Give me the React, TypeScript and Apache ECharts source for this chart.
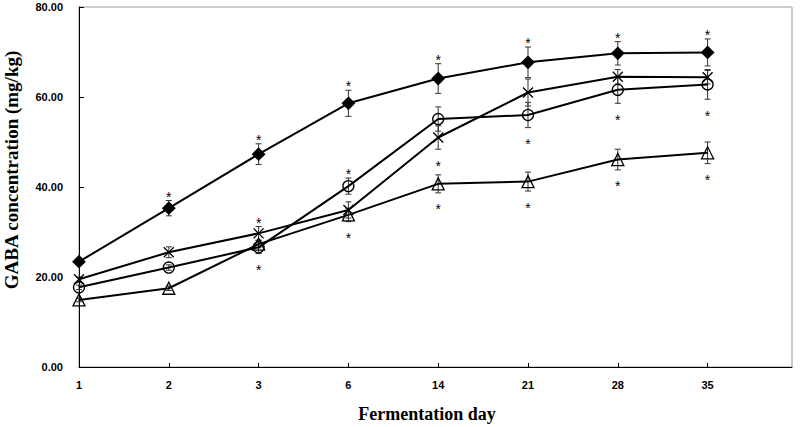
import React, { useEffect, useRef } from 'react';
import * as echarts from 'echarts';

// Fermentation days (x categories)
const DAYS = ['1', '2', '3', '6', '14', '21', '28', '35'];
const Y_TICKS = [0, 20, 40, 60, 80];

// Series values (mg/kg)
const DIAMOND = [23.4, 35.3, 47.3, 58.6, 64.1, 67.7, 69.7, 69.9];
const DIAMOND_ERR = [0.6, 1.7, 2.3, 2.9, 3.3, 3.4, 2.6, 3.0];
const DIAMOND_SIG = [0, 1, 1, 1, 1, 1, 1, 1];

const CROSS = [19.5, 25.5, 29.7, 34.9, 51.0, 61.0, 64.5, 64.4];
const CROSS_ERR = [0.5, 1.2, 1.5, 1.8, 2.6, 3.0, 1.6, 1.5];
const CROSS_SIG = [0, 0, 1, 0, -1, 0, 0, 0];

const CIRCLE = [17.7, 22.1, 26.6, 40.2, 55.1, 56.0, 61.6, 62.8];
const CIRCLE_ERR = [0.5, 0.6, 1.4, 1.8, 2.7, 2.8, 3.0, 3.3];
const CIRCLE_SIG = [0, 0, -1, 1, 0, -1, -1, -1];

const TRIANGLE = [14.9, 17.5, 27.3, 33.8, 40.7, 41.2, 46.1, 47.6];
const TRIANGLE_ERR = [0.4, 0.5, 0.8, 1.5, 2.0, 2.1, 2.3, 2.4];
const TRIANGLE_SIG = [0, 0, 0, -1, -1, -1, -1, -1];

const SERIES = [
  { name: 'A', values: DIAMOND, err: DIAMOND_ERR, sig: DIAMOND_SIG, symbol: 'diamond', size: 12, fill: '#000' },
  { name: 'B', values: CROSS, err: CROSS_ERR, sig: CROSS_SIG, symbol: 'path://M0,0L10,10M10,0L0,10', size: 10, fill: 'transparent' },
  { name: 'C', values: CIRCLE, err: CIRCLE_ERR, sig: CIRCLE_SIG, symbol: 'circle', size: 11, fill: 'transparent' },
  { name: 'D', values: TRIANGLE, err: TRIANGLE_ERR, sig: TRIANGLE_SIG, symbol: 'triangle', size: 12, fill: 'transparent' },
];

export default function App() {
  const ref = useRef<HTMLDivElement>(null);
  useEffect(() => {
    const chart = echarts.init(ref.current!, null, { renderer: 'svg' });

    const errData: number[][] = [];
    const sigData: number[][] = [];
    SERIES.forEach((s) => {
      s.values.forEach((v, i) => {
        errData.push([i, v - s.err[i], v + s.err[i]]);
        if (s.sig[i] !== 0) {
          sigData.push([i, s.sig[i] > 0 ? v + s.err[i] : v - s.err[i], s.sig[i]]);
        }
      });
    });

    const lineSeries = SERIES.map((s) => ({
      name: s.name,
      type: 'line',
      data: s.values.map((v, i) => [i, v]),
      symbol: s.symbol,
      symbolSize: s.size,
      showSymbol: true,
      itemStyle: { color: s.fill, borderColor: '#000', borderWidth: 1.3 },
      lineStyle: { color: '#000', width: 2 },
      z: 3,
      silent: true,
    }));

    const option: any = {
      animation: false,
      grid: {
        left: 79,
        right: 8,
        top: 7,
        bottom: 60,
        show: true,
        borderColor: '#999',
        borderWidth: 1,
        backgroundColor: 'transparent',
      },
      xAxis: {
        type: 'value',
        min: 0,
        max: 7.94,
        interval: 1,
        axisLine: { show: true, lineStyle: { color: '#000', width: 1 } },
        axisTick: { show: true, inside: true, length: 4, lineStyle: { color: '#000' } },
        splitLine: { show: false },
        axisLabel: {
          formatter: (v: number) => (Number.isInteger(v) && DAYS[v] !== undefined ? DAYS[v] : ''),
          fontWeight: 'bold',
          fontSize: 11,
          color: '#000',
          margin: 12,
          fontFamily: '"Liberation Sans", Arial, sans-serif',
          showMaxLabel: false,
        },
      },
      yAxis: {
        type: 'value',
        min: Y_TICKS[0],
        max: Y_TICKS[Y_TICKS.length - 1],
        interval: 20,
        axisLine: { show: true, lineStyle: { color: '#000', width: 1 } },
        axisTick: { show: true, inside: true, length: 5, lineStyle: { color: '#000' } },
        splitLine: { show: false },
        axisLabel: {
          formatter: (v: number) => v.toFixed(2),
          fontWeight: 'bold',
          fontSize: 11,
          color: '#000',
          margin: 16,
          fontFamily: '"Liberation Sans", Arial, sans-serif',
        },
      },
      graphic: [
        {
          type: 'text',
          x: 11,
          y: 170,
          rotation: Math.PI / 2,
          style: {
            text: 'GABA concentration (mg/kg)',
            font: 'bold 19px "Liberation Serif", "Times New Roman", serif',
            fill: '#000',
            align: 'center',
            verticalAlign: 'middle',
          },
        },
        {
          type: 'text',
          x: 427,
          y: 414,
          style: {
            text: 'Fermentation day',
            font: 'bold 18px "Liberation Serif", "Times New Roman", serif',
            fill: '#000',
            align: 'center',
            verticalAlign: 'middle',
          },
        },
      ],
      series: [
        {
          type: 'custom',
          name: 'err',
          data: errData,
          encode: { x: 0, y: [1, 2] },
          z: 1,
          silent: true,
          renderItem: (params: any, api: any) => {
            const x = api.value(0);
            const lo = api.coord([x, api.value(1)]);
            const hi = api.coord([x, api.value(2)]);
            const w = 3;
            const st = { stroke: '#333', lineWidth: 1 };
            return {
              type: 'group',
              children: [
                { type: 'line', shape: { x1: lo[0], y1: lo[1], x2: hi[0], y2: hi[1] }, style: st },
                { type: 'line', shape: { x1: lo[0] - w, y1: lo[1], x2: lo[0] + w, y2: lo[1] }, style: st },
                { type: 'line', shape: { x1: hi[0] - w, y1: hi[1], x2: hi[0] + w, y2: hi[1] }, style: st },
              ],
            };
          },
        },
        ...lineSeries,
        {
          type: 'custom',
          name: 'sig',
          data: sigData,
          encode: { x: 0, y: 1 },
          z: 4,
          silent: true,
          renderItem: (params: any, api: any) => {
            const p = api.coord([api.value(0), api.value(1)]);
            const dir = api.value(2);
            const y = dir > 0 ? p[1] - 7 : p[1] + 13.5;
            return {
              type: 'text',
              x: p[0],
              y: y + 3,
              style: {
                text: '*',
                fontSize: 14,
                fontFamily: '"Liberation Sans", Arial, sans-serif',
                fill: '#000',
                align: 'center',
                verticalAlign: 'middle',
              },
            };
          },
        },
      ],
    };

    chart.setOption(option);
    return () => chart.dispose();
  }, []);

  return <div ref={ref} style={{ position: 'absolute', left: 0, top: 0, width: 800, height: 427 }} />;
}
